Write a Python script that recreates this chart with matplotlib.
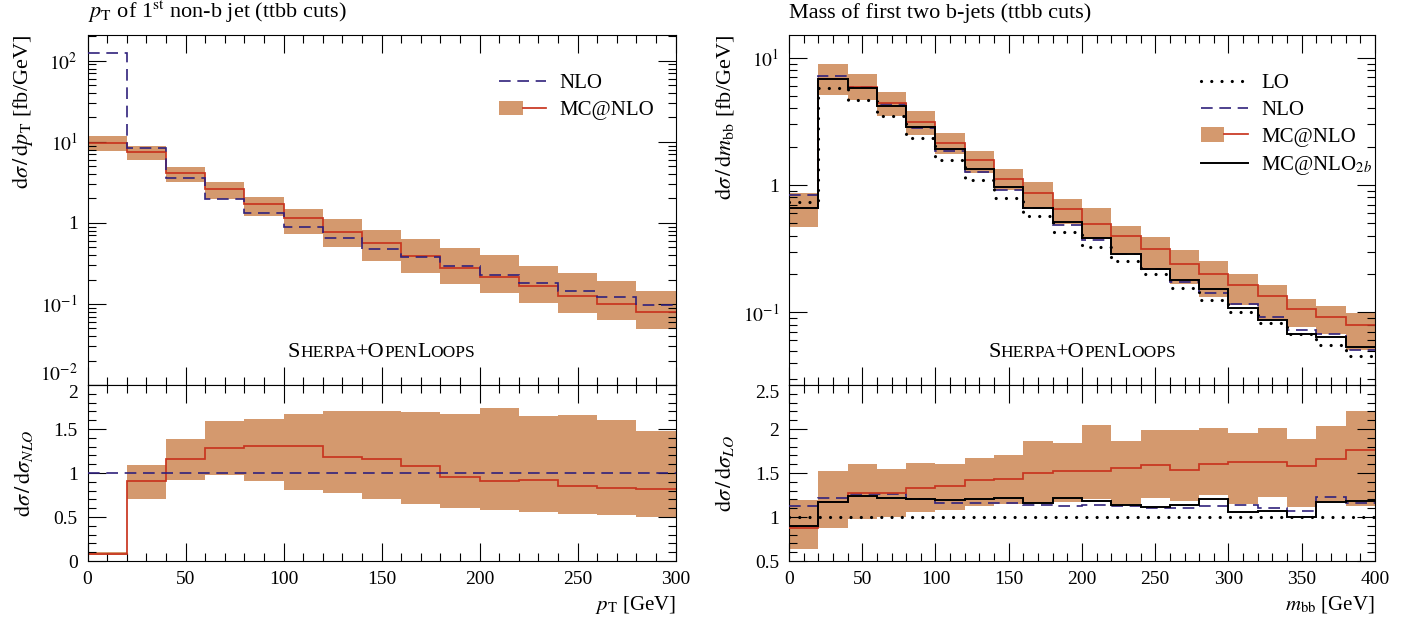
import numpy as np
import matplotlib
matplotlib.use('Agg')
import matplotlib.pyplot as plt
import matplotlib.transforms as mtransforms
from matplotlib.ticker import MultipleLocator, LogLocator, FuncFormatter, NullFormatter, FixedLocator
from matplotlib.patches import Patch
from matplotlib.lines import Line2D
from matplotlib.legend_handler import HandlerTuple

plt.rcParams['font.family'] = ['Liberation Serif', 'DejaVu Serif']
plt.rcParams['mathtext.fontset'] = 'stix'

# ---- left: pT of 1st non-b jet ----
pt_edges = [0, 20, 40, 60, 80, 100, 120, 140, 160, 180, 200, 220, 240, 260, 280, 300]
nlo_pt = [123, 8.3, 3.53, 1.99, 1.31, 0.90, 0.656, 0.481, 0.376, 0.291, 0.230, 0.180, 0.146, 0.121, 0.0973]
mc_pt = [9.8, 7.46, 4.11, 2.59, 1.71, 1.16, 0.778, 0.559, 0.394, 0.278, 0.213, 0.165, 0.126, 0.099, 0.0797]
mc_pt_hi = [11.97, 8.85, 4.92, 3.18, 2.10, 1.50, 1.11, 0.817, 0.627, 0.485, 0.402, 0.296, 0.241, 0.190, 0.143]
mc_pt_lo = [7.68, 5.89, 3.24, 1.99, 1.20, 0.728, 0.508, 0.342, 0.241, 0.176, 0.137, 0.102, 0.0782, 0.063, 0.0497]

r_nlo_pt = [1.0] * 15
r_mc_pt = [0.083, 0.905, 1.155, 1.288, 1.311, 1.303, 1.186, 1.159, 1.076, 0.958, 0.913, 0.920, 0.856, 0.830, 0.818]
r_mc_pt_hi = [0.098, 1.091, 1.386, 1.591, 1.614, 1.670, 1.705, 1.705, 1.693, 1.670, 1.739, 1.652, 1.663, 1.602, 1.477]
r_mc_pt_lo = [0.072, 0.708, 0.924, 0.977, 0.913, 0.811, 0.773, 0.708, 0.648, 0.606, 0.583, 0.561, 0.534, 0.523, 0.504]

# ---- right: mass of first two b-jets ----
m_edges = [0, 20, 40, 60, 80, 100, 120, 140, 160, 180, 200, 220, 240, 260, 280, 300, 320, 340, 360, 380, 400]
lo_m = [0.731, 5.78, 4.62, 3.46, 2.35, 1.58, 1.10, 0.786, 0.571, 0.428, 0.326, 0.255, 0.198, 0.156, 0.125,
        0.1007, 0.0825, 0.0676, 0.0554, 0.0451]
nlo_m = [0.839, 7.13, 5.89, 4.35, 2.80, 1.84, 1.27, 0.914, 0.660, 0.485, 0.372, 0.289, 0.220, 0.172, 0.142,
         0.1156, 0.0925, 0.0726, 0.0672, 0.0509]
mc_m = [0.66, 6.80, 5.89, 4.43, 3.12, 2.15, 1.56, 1.12, 0.860, 0.648, 0.497, 0.395, 0.313, 0.238, 0.201,
        0.164, 0.133, 0.106, 0.0919, 0.0796]
mc_m_hi = [0.87, 8.87, 7.49, 5.37, 3.79, 2.54, 1.84, 1.34, 1.06, 0.781, 0.664, 0.473, 0.393, 0.310, 0.252,
           0.199, 0.165, 0.127, 0.112, 0.0993]
mc_m_lo = [0.47, 5.09, 4.62, 3.48, 2.49, 1.74, 1.24, 0.908, 0.660, 0.497, 0.379, 0.289, 0.220, 0.168, 0.132,
           0.1135, 0.0881, 0.0767, 0.0680, 0.0503]
b2_m = [0.660, 6.84, 5.81, 4.20, 2.85, 1.91, 1.34, 0.959, 0.660, 0.515, 0.386, 0.289, 0.220, 0.178, 0.151,
        0.1075, 0.0876, 0.0680, 0.0644, 0.0534]

r_lo_m = [1.0] * 20
r_nlo_m = [1.125, 1.221, 1.266, 1.258, 1.202, 1.16, 1.16, 1.16, 1.141, 1.125, 1.141, 1.13, 1.103, 1.103, 1.13,
           1.141, 1.106, 1.073, 1.228, 1.164]
r_mc_m = [0.88, 1.176, 1.274, 1.277, 1.331, 1.354, 1.415, 1.43, 1.502, 1.521, 1.521, 1.559, 1.586, 1.529, 1.604,
          1.627, 1.62, 1.575, 1.658, 1.76]
r_mc_m_hi = [1.198, 1.525, 1.605, 1.54, 1.609, 1.605, 1.673, 1.703, 1.863, 1.844, 2.04, 1.863, 1.989, 1.989, 2.008,
             1.958, 2.011, 1.882, 2.034, 2.205]
r_mc_m_lo = [0.635, 0.875, 0.98, 1.0, 1.06, 1.085, 1.12, 1.15, 1.16, 1.171, 1.21, 1.15, 1.217, 1.179, 1.247,
             1.145, 1.228, 1.114, 1.179, 1.125]
r_b2_m = [0.894, 1.171, 1.24, 1.213, 1.202, 1.198, 1.21, 1.221, 1.16, 1.217, 1.179, 1.141, 1.114, 1.141, 1.202,
          1.062, 1.068, 1.0, 1.171, 1.183]

band_col = '#d4996e'
red = '#c8351f'
blue = '#30217c'
dash = (0, (7, 4))
dots = (0, (0.01, 3.2))

fig = plt.figure(figsize=(14.16, 6.22), dpi=100)
W, H = 1416., 622.


def rect(x0, x1, y0, y1):
    return [x0 / W, 1 - y1 / H, (x1 - x0) / W, (y1 - y0) / H]


axL = fig.add_axes(rect(87.5, 675.5, 35, 385))
rL = fig.add_axes(rect(87.5, 675.5, 385, 561))
axR = fig.add_axes(rect(789, 1375, 35, 385))
rR = fig.add_axes(rect(789, 1375, 385, 561))


def logfmt(v, pos):
    if abs(v - 1) < 1e-9:
        return '1'
    return r'$10^{%d}$' % int(round(np.log10(v)))


def style(ax):
    ax.tick_params(which='both', direction='in', top=True, right=True, labelsize=14, width=0.8)
    ax.tick_params(which='major', length=13, pad=7)
    ax.tick_params(which='minor', length=6)
    for s in ax.spines.values():
        s.set_linewidth(0.8)


for ax in (axL, axR):
    ax.set_yscale('log')
    ax.yaxis.set_minor_locator(LogLocator(base=10, subs=np.arange(2, 10)))
    ax.yaxis.set_major_formatter(FuncFormatter(logfmt))
    ax.yaxis.set_minor_formatter(NullFormatter())
    ax.xaxis.set_major_locator(MultipleLocator(50))
    ax.xaxis.set_minor_locator(MultipleLocator(10))
    style(ax)
    ax.tick_params(labelbottom=False)
axL.yaxis.set_major_locator(FixedLocator([1e-2, 1e-1, 1, 10, 100]))
axR.yaxis.set_major_locator(FixedLocator([1e-1, 1, 10]))

for ax in (rL, rR):
    ax.xaxis.set_major_locator(MultipleLocator(50))
    ax.xaxis.set_minor_locator(MultipleLocator(10))
    ax.yaxis.set_minor_locator(MultipleLocator(0.1))
    ax.yaxis.set_major_formatter(FuncFormatter(lambda v, p: '%g' % v))
    style(ax)
rL.yaxis.set_major_locator(FixedLocator([0, 0.5, 1, 1.5, 2]))
rR.yaxis.set_major_locator(FixedLocator([0.5, 1, 1.5, 2, 2.5]))

# left main
axL.stairs(mc_pt_hi, pt_edges, baseline=mc_pt_lo, fill=True, color=band_col, lw=0, zorder=1)
axL.stairs(mc_pt, pt_edges, baseline=None, color=red, lw=1.25, zorder=2)
axL.stairs(nlo_pt, pt_edges, baseline=None, color=blue, lw=1.2, linestyle=dash, zorder=3)
axL.set_xlim(0, 300)
axL.set_ylim(0.01, 208)

# left ratio
rL.stairs(r_mc_pt_hi, pt_edges, baseline=r_mc_pt_lo, fill=True, color=band_col, lw=0, zorder=1)
rL.stairs(r_mc_pt, pt_edges, baseline=None, color=red, lw=1.25, zorder=2)
rL.stairs(r_nlo_pt, pt_edges, baseline=None, color=blue, lw=1.2, linestyle=dash, zorder=3)
rL.set_xlim(0, 300)
rL.set_ylim(0, 2)

# right main
axR.stairs(mc_m_hi, m_edges, baseline=mc_m_lo, fill=True, color=band_col, lw=0, zorder=1)
axR.stairs(lo_m, m_edges, baseline=None, color='black', lw=2.3, linestyle=dots, capstyle='round', zorder=2)
axR.stairs(nlo_m, m_edges, baseline=None, color=blue, lw=1.2, linestyle=dash, zorder=3)
axR.stairs(mc_m, m_edges, baseline=None, color=red, lw=1.25, zorder=4)
axR.stairs(b2_m, m_edges, baseline=None, color='black', lw=1.4, zorder=5)
axR.set_xlim(0, 400)
axR.set_ylim(0.0268, 15.1)

# right ratio
rR.stairs(r_mc_m_hi, m_edges, baseline=r_mc_m_lo, fill=True, color=band_col, lw=0, zorder=1)
rR.stairs(r_lo_m, m_edges, baseline=None, color='black', lw=2.3, linestyle=dots, capstyle='round', zorder=2)
rR.stairs(r_nlo_m, m_edges, baseline=None, color=blue, lw=1.2, linestyle=dash, zorder=3)
rR.stairs(r_mc_m, m_edges, baseline=None, color=red, lw=1.25, zorder=4)
rR.stairs(r_b2_m, m_edges, baseline=None, color='black', lw=1.4, zorder=5)
rR.set_xlim(0, 400)
rR.set_ylim(0.5, 2.5)

# keep the 10^-2 and 2 labels apart like the original
fig.canvas.draw()
axL.yaxis.get_major_ticks()[0].label1.set_verticalalignment('bottom')
rL.yaxis.get_major_ticks()[-1].label1.set_verticalalignment('top')
rR.yaxis.get_major_ticks()[-1].label1.set_verticalalignment('top')

# titles and labels
axL.text(0, 1.049, r'$p_\mathrm{T}$ of 1$^\mathrm{st}$ non-b jet (ttbb cuts)', transform=axL.transAxes,
         fontsize=16, ha='left', va='baseline')
axR.text(0, 1.049, 'Mass of first two b-jets (ttbb cuts)', transform=axR.transAxes,
         fontsize=16, ha='left', va='baseline')

axL.set_ylabel(r'$\mathrm{d}\sigma\,/\,\mathrm{d}p_\mathrm{T}$ [fb/GeV]', fontsize=16, loc='top')
axR.set_ylabel(r'$\mathrm{d}\sigma\,/\,\mathrm{d}m_\mathrm{bb}$ [fb/GeV]', fontsize=16, loc='top')
rL.set_ylabel(r'$\mathrm{d}\sigma\,/\,\mathrm{d}\sigma_{NLO}$', fontsize=16)
rR.set_ylabel(r'$\mathrm{d}\sigma\,/\,\mathrm{d}\sigma_{LO}$', fontsize=16)
axL.yaxis.set_label_coords(-0.09, 1.0)
axR.yaxis.set_label_coords(-0.09, 1.0)
rL.yaxis.set_label_coords(-0.09, 0.5)
rR.yaxis.set_label_coords(-0.09, 0.5)

rL.set_xlabel(r'$p_\mathrm{T}$ [GeV]', fontsize=15, loc='right')
rR.set_xlabel(r'$m_\mathrm{bb}$ [GeV]', fontsize=15, loc='right')
rL.xaxis.set_label_coords(1.0, -0.19)
rR.xaxis.set_label_coords(1.0, -0.19)

# legends
nlo_h = Line2D([], [], color=blue, lw=1.2, linestyle=dash)
mc_h = (Patch(facecolor=band_col, edgecolor='none'), Line2D([], [], color=red, lw=1.25))
lo_h = Line2D([], [], color='black', lw=2.3, linestyle=dots, dash_capstyle='round')
b2_h = Line2D([], [], color='black', lw=1.4)
leg_kw = dict(loc='upper left', frameon=False, fontsize=15, handlelength=2.26, handletextpad=0.63,
              labelspacing=0.34, borderpad=0, borderaxespad=0, handler_map={tuple: HandlerTuple(ndivide=None, pad=0)})
axL.legend([nlo_h, mc_h], ['NLO', 'MC@NLO'], bbox_to_anchor=(0.70, 0.889), **leg_kw)
axR.legend([lo_h, nlo_h, mc_h, b2_h], ['LO', 'NLO', 'MC@NLO', r'MC@NLO$_{2b}$'],
           bbox_to_anchor=(0.703, 0.889), **leg_kw)

# Sherpa+OpenLoops in small caps
renderer = fig.canvas.get_renderer()
pieces = [('S', 16), ('HERPA', 12.5), ('+O', 16), ('PEN', 12.5), ('L', 16), ('OOPS', 12.5)]
for ax in (axL, axR):
    widths = []
    for s, fs in pieces:
        t = ax.text(0, 0, s, fontsize=fs)
        widths.append(t.get_window_extent(renderer).width)
        t.remove()
    x = -sum(widths) / 2
    for (s, fs), w in zip(pieces, widths):
        tr = mtransforms.offset_copy(ax.transAxes, fig=fig, x=x, y=0, units='dots')
        ax.text(0.5, 0.08, s, fontsize=fs, transform=tr, ha='left', va='baseline')
        x += w

fig.savefig('out.png', dpi=100)
